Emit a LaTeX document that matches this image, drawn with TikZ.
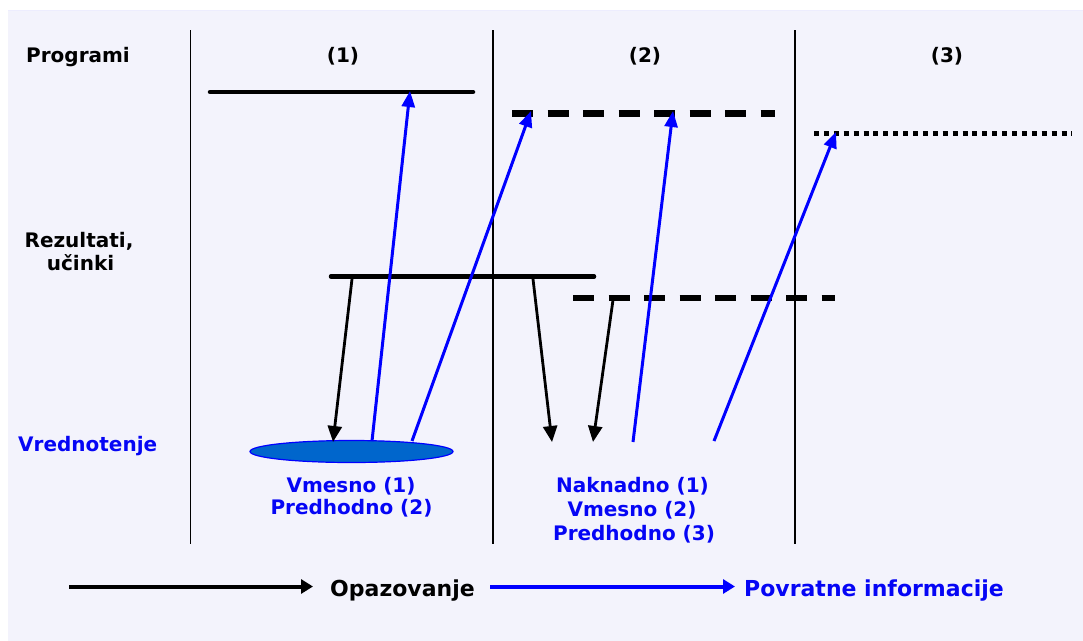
\documentclass[tikz,border=0pt]{standalone}
\usepackage{fontspec}
\setmainfont{DejaVu Sans}
\usetikzlibrary{arrows.meta,shapes.geometric}
\definecolor{bgside}{RGB}{243,243,252}
\definecolor{bgmid}{RGB}{254,254,255}
\definecolor{txtblue}{RGB}{5,5,245}
\definecolor{blobfill}{RGB}{0,102,204}
\tikzset{
  lbl/.style={inner sep=0pt,font=\fontsize{20}{24}\selectfont\bfseries},
  bluelbl/.style={lbl,text=txtblue},
  leg/.style={inner sep=0pt,font=\fontsize{22}{26}\selectfont\bfseries},
  divider/.style={line width=1.2pt,black},
  solidlvl/.style={line width=4.5pt,line cap=round},
  dashlvl/.style={line width=6.5pt,dash pattern=on 21pt off 14.5pt},
  dotlvl/.style={line width=5pt,dash pattern=on 5pt off 4.9pt},
  obs/.style={line width=2.8pt,black,-{Triangle[length=16pt,width=14pt]}},
  fb/.style={line width=3pt,blue,-{Triangle[length=16pt,width=13pt]}},
}
\begin{document}
\begin{tikzpicture}[x=1pt,y=-1pt]
\useasboundingbox (0,0) rectangle (1083,640);
\fill[white] (0,0) rectangle (1083,640);
\shade[left color=bgside,middle color=bgmid,right color=bgside] (8,10) rectangle (1083,640);
\draw[line width=1pt,color=bgside!80!blue!30] (8,10) -- (1083,10);

% dividers
\coordinate (d1t) at (190.5,30); \coordinate (d1b) at (190.5,544);
\coordinate (d2t) at (493,30); \coordinate (d2b) at (493,544);
\coordinate (d3t) at (795,30); \coordinate (d3b) at (795,544);
\draw[divider] (d1t) -- (d1b);
\draw[divider] (d2t) -- (d2b);
\draw[divider] (d3t) -- (d3b);

% labels
\node[lbl,anchor=base west] (prog) at (26,62) {Programi};
\node[lbl,anchor=base] (c1) at (343,62) {(1)};
\node[lbl,anchor=base] (c2) at (645,62) {(2)};
\node[lbl,anchor=base] (c3) at (947,62) {(3)};
\node[lbl,anchor=base] (rez) at (79,247) {Rezultati,};
\node[lbl,anchor=base] (uci) at (80.5,270) {učinki};
\node[bluelbl,anchor=base west] (vred) at (18,451.5) {Vrednotenje};

% program levels
\coordinate (p1a) at (210,92); \coordinate (p1b) at (473,92);
\coordinate (p2a) at (512,113.5); \coordinate (p2b) at (775,113.5);
\coordinate (p3a) at (814,133.5); \coordinate (p3b) at (1072,133.5);
\draw[solidlvl] (p1a) -- (p1b);
\draw[dashlvl] (p2a) -- (p2b);
\draw[dotlvl] (p3a) -- (p3b);

% result levels
\coordinate (r1a) at (331,276.5); \coordinate (r1b) at (594,276.5);
\coordinate (r2a) at (573,298); \coordinate (r2b) at (835,298);
\draw[solidlvl] (r1a) -- (r1b);
\draw[dashlvl] (r2a) -- (r2b);

% evaluation blob
\node[ellipse,draw=blue,line width=1.2pt,fill=blobfill,minimum width=203pt,minimum height=22pt,inner sep=0pt] (blob) at (351.5,451.5) {};

% observation arrows
\coordinate (o1s) at (352,279); \coordinate (o1e) at (333,442);
\coordinate (o2s) at (533,279); \coordinate (o2e) at (552,442);
\coordinate (o3s) at (613,300); \coordinate (o3e) at (593,442);
\draw[obs] (o1s) -- (o1e);
\draw[obs] (o2s) -- (o2e);
\draw[obs] (o3s) -- (o3e);

% feedback arrows
\coordinate (f1s) at (372,441); \coordinate (f1e) at (410,91);
\coordinate (f2s) at (412,441); \coordinate (f2e) at (531,111);
\coordinate (f3s) at (633,442); \coordinate (f3e) at (673,111);
\coordinate (f4s) at (714,441); \coordinate (f4e) at (836,132);
\draw[fb] (f1s) -- (f1e);
\draw[fb] (f2s) -- (f2e);
\draw[fb] (f3s) -- (f3e);
\draw[fb] (f4s) -- (f4e);

% evaluation labels
\node[bluelbl,anchor=base] (e1a) at (351,492.5) {Vmesno (1)};
\node[bluelbl,anchor=base] (e1b) at (351.5,514) {Predhodno (2)};
\node[bluelbl,anchor=base] (e2a) at (632.5,492.5) {Naknadno (1)};
\node[bluelbl,anchor=base] (e2b) at (632,516.5) {Vmesno (2)};
\node[bluelbl,anchor=base] (e2c) at (634,540) {Predhodno (3)};

% legend
\coordinate (l1s) at (69,586.5); \coordinate (l1e) at (313,586.5);
\draw[line width=4pt,black,-{Triangle[length=12pt,width=14pt]}] (l1s) -- (l1e);
\node[leg,anchor=base west] (lopa) at (330,596.5) {Opazovanje};
\coordinate (l2s) at (490,586.5); \coordinate (l2e) at (735,586.5);
\draw[line width=4pt,blue,-{Triangle[length=12pt,width=14pt]}] (l2s) -- (l2e);
\node[leg,anchor=base west,text=txtblue] (lpov) at (744,596.5) {Povratne informacije};
\end{tikzpicture}
\end{document}
